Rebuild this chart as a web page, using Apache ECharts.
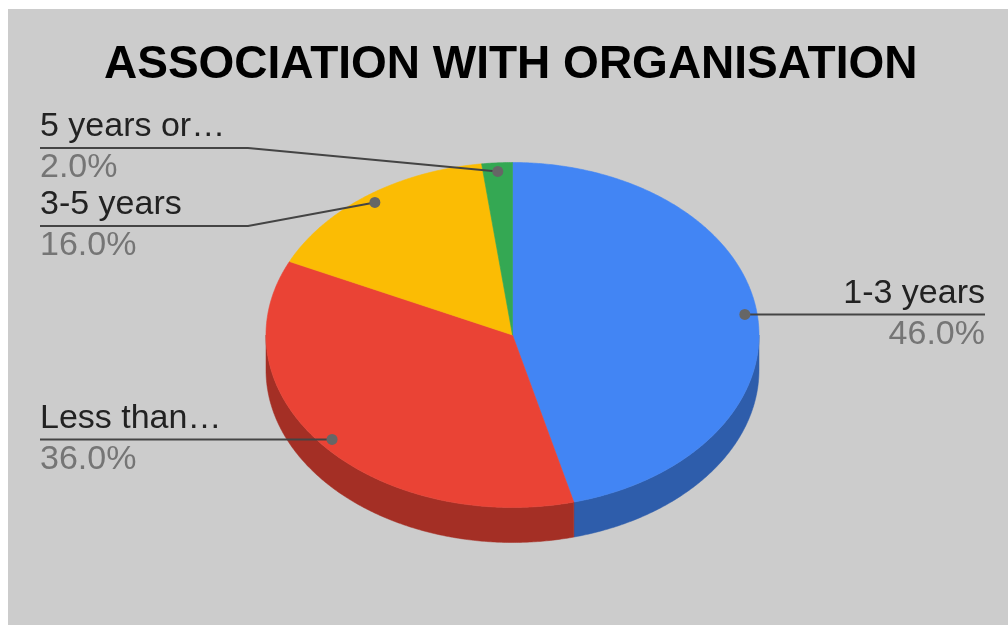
<!DOCTYPE html>
<html>
<head>
<meta charset="utf-8">
<title>Association with Organisation</title>
<script src="https://cdn.jsdelivr.net/npm/echarts@6/dist/echarts.min.js"></script>
<style>
  html, body { margin: 0; padding: 0; background: #ffffff; }
  #chart { width: 1008px; height: 625px; }
</style>
</head>
<body>
<div id="chart"></div>
<script>
// Slice names (as shown, truncated), their shares in percent and colours
const categories = ['1-3 years', 'Less than\u2026', '3-5 years', '5 years or\u2026'];
const shares = [46, 36, 16, 2];
const topColors = ['#4285f4', '#ea4335', '#fbbc04', '#34a853'];
const sideColors = ['#2e5dab', '#a42f25', '#b08403', '#247538'];
const titleText = 'ASSOCIATION WITH ORGANISATION';

// Tilted-pie geometry (pixels)
const G = { cx: 512.5, cy: 335, rx: 246.5, ry: 172.5, depth: 35, dotK: 0.95 };
// Callout placement: label side and fixed leader y for the stacked left labels
const LABEL = {
  leftX: 40, rightX: 985, bendX: 248,
  side: ['right', 'left', 'left', 'left'],
  lineY: [null, null, 226, 148],
  font: '34px "Liberation Sans", Arial, sans-serif'
};

const total = shares.reduce((a, b) => a + b, 0);

// point on the top ellipse, angle in degrees clockwise from 12 o'clock
function pt(deg, k, dy) {
  const r = deg * Math.PI / 180;
  return [G.cx + G.rx * k * Math.sin(r), G.cy - G.ry * k * Math.cos(r) + (dy || 0)];
}
function arc(a, b, dy) {
  const n = Math.max(2, Math.ceil(Math.abs(b - a) / 0.5) + 1);
  const out = [];
  for (let i = 0; i < n; i++) out.push(pt(a + (b - a) * i / (n - 1), 1, dy));
  return out;
}

function renderItem(params, api) {
  const i = params.dataIndex;
  const v = api.value(0);
  let before = 0;
  for (let j = 0; j < i; j++) before += shares[j];
  const start = before / total * 360;
  const end = start + v / total * 360;
  const children = [];

  // outer wall: only the front half (90..270 deg) is visible
  const s = Math.max(start, 90), e = Math.min(end, 270);
  if (e > s) {
    children.push({
      type: 'polygon',
      shape: { points: arc(s, e, 0).concat(arc(e, s, G.depth)) },
      style: { fill: sideColors[i], stroke: sideColors[i], lineWidth: 0.5 }
    });
  }
  // top face
  children.push({
    type: 'polygon',
    shape: { points: [[G.cx, G.cy]].concat(arc(start, end, 0)) },
    style: { fill: topColors[i], stroke: topColors[i], lineWidth: 0.6 }
  });

  // callout
  const mid = (start + end) / 2;
  const dot = pt(mid, G.dotK, 0);
  const side = LABEL.side[i];
  const ly = LABEL.lineY[i] == null ? dot[1] : LABEL.lineY[i];
  let line, tx, align;
  if (side === 'right') {
    line = [dot, [LABEL.rightX, ly]];
    tx = LABEL.rightX; align = 'right';
  } else {
    line = ly === dot[1] ? [[LABEL.leftX, ly], dot]
                         : [[LABEL.leftX, ly], [LABEL.bendX, ly], dot];
    tx = LABEL.leftX; align = 'left';
  }
  children.push({
    type: 'polyline', z2: 20,
    shape: { points: line },
    style: { stroke: '#444444', lineWidth: 2, fill: null }
  });
  children.push({
    type: 'circle', z2: 21,
    shape: { cx: dot[0], cy: dot[1], r: 5.5 },
    style: { fill: '#666666' }
  });
  children.push({
    type: 'text', z2: 22,
    style: { text: categories[i], x: tx, y: ly - 21, fill: '#222222',
             font: LABEL.font, align: align, verticalAlign: 'middle' }
  });
  children.push({
    type: 'text', z2: 22,
    style: { text: (v / total * 100).toFixed(1) + '%', x: tx, y: ly + 20, fill: '#757575',
             font: LABEL.font, align: align, verticalAlign: 'middle' }
  });
  return { type: 'group', children: children };
}

const chart = echarts.init(document.getElementById('chart'), null, { renderer: 'canvas' });
chart.setOption({
  animation: false,
  backgroundColor: '#ffffff',
  graphic: [{
    type: 'rect', z: -10,
    shape: { x: 8, y: 9, width: 1000, height: 616 },
    style: { fill: '#cccccc' }
  }],
  title: {
    text: titleText,
    left: 104, top: 42, padding: 0,
    textStyle: { fontFamily: '"Liberation Sans", Arial, sans-serif', fontWeight: 'bold',
                 fontSize: 46, color: '#000000' }
  },
  series: [{
    type: 'custom',
    coordinateSystem: 'none',
    renderItem: renderItem,
    data: shares.map((v, i) => ({ name: categories[i], value: [v] }))
  }]
});
</script>
</body>
</html>
